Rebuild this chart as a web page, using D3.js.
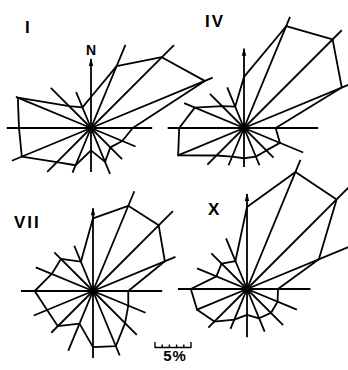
<!DOCTYPE html>
<html>
<head>
<meta charset="utf-8">
<script src="https://cdn.jsdelivr.net/npm/d3@7"></script>
<style>
  html, body { margin: 0; padding: 0; background: #fff; }
  text { font-family: "Liberation Sans", Arial, sans-serif; font-weight: bold; fill: #000; }
</style>
</head>
<body>
<svg id="chart" width="348" height="370"></svg>
<script>
// 16 compass directions, clockwise from N
const dirs = ["N","NNE","NE","ENE","E","ESE","SE","SSE","S","SSW","SW","WSW","W","WNW","NW","NNW"];

// polygon = frequency (%), spoke = reach of the direction line (%)
const freqI   = [4.3, 9.3, 13.9, 17.1, 5.8, 4.7, 3.8, 5.1, 3.1, 5.6, 6.7, 10.4, 10.0, 11.0, 4.3, 3.1];
const reachI  = [9.6, 12.5, 16.3, 18.3, 8.5, 6.7, 6.1, 6.9, 6.1, 6.7, 8.6, 11.9, 11.7, 11.3, 7.9, 5.4];

const freqIV  = [7.1, 15.3, 17.4, 14.7, 4.4, 5.4, 4.4, 4.3, 4.2, 4.3, 5.4, 9.9, 9.0, 7.4, 4.3, 3.2];
const reachIV = [11.0, 16.7, 19.2, 15.8, 10.3, 8.9, 5.8, 5.6, 5.4, 5.6, 7.2, 10.0, 10.6, 9.0, 6.7, 6.1];

const freqVII  = [10.1, 12.8, 12.9, 10.8, 4.9, 5.3, 6.3, 8.3, 7.8, 4.9, 6.9, 6.9, 8.1, 6.2, 6.3, 4.4];
const reachVII = [11.5, 15.0, 15.7, 12.4, 9.6, 7.9, 8.6, 9.7, 9.3, 9.0, 8.2, 8.9, 10.0, 8.6, 7.6, 6.8];

const freqX  = [11.4, 17.6, 17.6, 10.8, 4.3, 4.6, 4.7, 4.4, 3.6, 4.6, 6.4, 7.5, 7.8, 4.6, 5.0, 4.2];
const reachX = [13.2, 19.4, 19.9, 15.3, 8.8, 7.5, 7.1, 6.4, 6.7, 6.0, 7.6, 7.6, 9.6, 7.5, 7.0, 7.6];

const monthLabels = ["I", "IV", "VII", "X"];
const scaleTicks = [0, 1, 2, 3, 4, 5];
const scaleLabel = "5%";

const svg = d3.select("#chart");

// 5% = 36px on the original scale bar
const r = d3.scaleLinear().domain([0, 5]).range([0, 36]);
const ang = d3.scaleLinear().domain([0, dirs.length]).range([0, 2 * Math.PI]);

const panels = [
  {label: monthLabels[0], freq: freqI,   reach: reachI,   cx: 91,  cy: 128, lx: 25,  ly: 33},
  {label: monthLabels[1], freq: freqIV,  reach: reachIV,  cx: 244, cy: 128, lx: 205, ly: 27},
  {label: monthLabels[2], freq: freqVII, reach: reachVII, cx: 93,  cy: 291, lx: 14,  ly: 228},
  {label: monthLabels[3], freq: freqX,   reach: reachX,   cx: 247, cy: 289, lx: 208, ly: 215}
];

const poly = d3.lineRadial()
  .angle((d, i) => ang(i))
  .radius(d => r(d))
  .curve(d3.curveLinearClosed);

panels.forEach((p, k) => {
  const g = svg.append("g").attr("transform", `translate(${p.cx},${p.cy})`);

  // direction lines
  g.selectAll("line.spoke")
    .data(p.reach)
    .join("line")
    .attr("class", "spoke")
    .attr("x1", 0).attr("y1", 0)
    .attr("x2", (d, i) => d3.pointRadial(ang(i), r(d))[0])
    .attr("y2", (d, i) => d3.pointRadial(ang(i), r(d))[1])
    .attr("stroke", "#000")
    .attr("stroke-width", 1.8);

  // frequency polygon
  g.append("path")
    .attr("d", poly(p.freq))
    .attr("fill", "none")
    .attr("stroke", "#000")
    .attr("stroke-width", 1.8)
    .attr("stroke-linejoin", "round");

  // arrow head on the N line
  const tip = -r(p.reach[0]);
  g.append("path")
    .attr("d", `M0,${tip - 1} L-2.2,${tip + 7} L2.2,${tip + 7} Z`)
    .attr("fill", "#000");

  g.append("circle").attr("r", 2.8).attr("fill", "#000");

  svg.append("text")
    .attr("x", p.lx).attr("y", p.ly)
    .attr("font-size", 17)
    .attr("letter-spacing", 2)
    .text(p.label);

  if (k === 0) {
    svg.append("text")
      .attr("x", p.cx).attr("y", 55)
      .attr("text-anchor", "middle")
      .attr("font-size", 14)
      .text("N");
  }
});

// scale bar
const sx = d3.scaleLinear().domain([0, 5]).range([155, 191]);
const sb = svg.append("g");
sb.append("line")
  .attr("x1", sx(0)).attr("x2", sx(5))
  .attr("y1", 347.5).attr("y2", 347.5)
  .attr("stroke", "#000").attr("stroke-width", 1.6);
sb.selectAll("line.tick")
  .data(scaleTicks)
  .join("line")
  .attr("class", "tick")
  .attr("x1", d => sx(d)).attr("x2", d => sx(d))
  .attr("y1", 348)
  .attr("y2", d => (d === 0 || d === 5) ? 342 : 344.5)
  .attr("stroke", "#000").attr("stroke-width", 1.4);
sb.append("text")
  .attr("x", 175).attr("y", 361)
  .attr("text-anchor", "middle")
  .attr("font-size", 15)
  .attr("letter-spacing", 1)
  .text(scaleLabel);
</script>
</body>
</html>
